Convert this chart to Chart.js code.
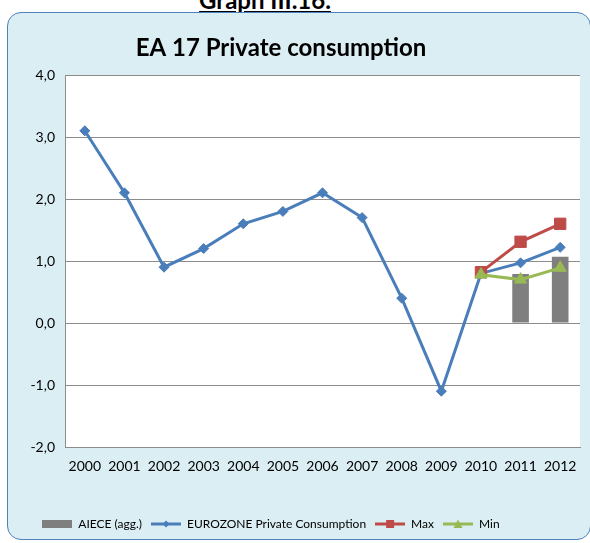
<!DOCTYPE html>
<html><head><meta charset="utf-8">
<script src="https://cdn.jsdelivr.net/npm/chart.js@4/dist/chart.umd.min.js"></script>
<style>
html,body{margin:0;padding:0;background:#fff;width:590px;height:543px;overflow:hidden;font-family:Lato,sans-serif}
#hdr{position:absolute;left:0;width:530px;top:-15px;line-height:24px;text-align:center;font:bold 24px Lato,sans-serif;text-decoration:underline;color:#000}
#panel{position:absolute;left:7px;top:12px;width:584px;height:528px;background:#DBEEF4;border:1.5px solid #4F81BD;border-radius:14px;box-sizing:border-box}
#wrap{position:absolute;left:0;top:0;width:590px;height:543px}
</style></head><body>
<div id="hdr">Graph III.16.</div>
<div id="panel"></div>
<div id="wrap"><canvas id="c" width="590" height="543"></canvas></div>
<script>
const chartTitle = 'EA 17 Private consumption';
const years = ['2000','2001','2002','2003','2004','2005','2006','2007','2008','2009','2010','2011','2012'];
const aiece = [null,null,null,null,null,null,null,null,null,null,null,0.79,1.07];
const eurozone = [3.1,2.1,0.9,1.2,1.6,1.8,2.1,1.7,0.4,-1.1,0.8,0.97,1.22];
const maxVals = [null,null,null,null,null,null,null,null,null,null,0.82,1.31,1.6];
const minVals = [null,null,null,null,null,null,null,null,null,null,0.78,0.7,0.89];
const yTicks = [-2,-1,0,1,2,3,4];

function legendImg(color, kind){
  const c=document.createElement('canvas');c.width=30;c.height=12;const x=c.getContext('2d');
  if(kind==='bar'){x.fillStyle=color;x.fillRect(0,2,30,8);return c;}
  x.strokeStyle=color;x.lineWidth=3;x.beginPath();x.moveTo(0,6);x.lineTo(30,6);x.stroke();
  x.fillStyle=color;x.beginPath();
  if(kind==='diamond'){x.moveTo(15,2.5);x.lineTo(18.5,6);x.lineTo(15,9.5);x.lineTo(11.5,6);x.closePath();}
  else if(kind==='square'){x.rect(11,2,8,8);}
  else {x.moveTo(15,1.5);x.lineTo(19.5,10);x.lineTo(10.5,10);x.closePath();}
  x.fill();return c;
}
const imgs=[legendImg('#7F7F7F','bar'),legendImg('#4A7EBB','diamond'),legendImg('#BE4B48','square'),legendImg('#98B954','tri')];

const whiteArea={id:'whiteArea',beforeDraw(ch){const a=ch.chartArea,g=ch.ctx;g.save();g.fillStyle='#fff';g.fillRect(a.left,a.top,a.right-a.left,a.bottom-a.top);g.restore();}};
const titleDraw={id:'titleDraw',afterDraw(ch){const g=ch.ctx;g.save();g.font='bold 24px Lato';g.fillStyle='#000';g.textAlign='center';g.textBaseline='middle';g.fillText(chartTitle,281,48);g.restore();}};
const legendShift={id:'legendShift',afterLayout(ch){if(ch.legend){ch.legend.left-=19;ch.legend.right-=19;}}};

new Chart(document.getElementById('c'),{
  data:{labels:years,datasets:[
    {type:'bar',label:'AIECE (agg.)',data:aiece,backgroundColor:'#7F7F7F',barPercentage:0.42,categoryPercentage:1,order:4},
    {type:'line',label:'EUROZONE Private Consumption',data:eurozone,borderColor:'#4A7EBB',backgroundColor:'#4A7EBB',borderWidth:3,pointBorderWidth:1,pointStyle:'rectRot',pointRadius:5,pointHoverRadius:5,tension:0,order:3},
    {type:'line',label:'Max',data:maxVals,borderColor:'#BE4B48',backgroundColor:'#BE4B48',borderWidth:3,pointBorderWidth:1,pointStyle:'rect',pointRadius:8,pointHoverRadius:8,tension:0,order:2},
    {type:'line',label:'Min',data:minVals,borderColor:'#98B954',backgroundColor:'#98B954',borderWidth:3,pointBorderWidth:1,pointStyle:'triangle',pointRadius:7,pointHoverRadius:7,tension:0,order:1}
  ]},
  options:{
    responsive:false,animation:false,
    layout:{padding:{left:0,right:10,top:75,bottom:3}},
    plugins:{
      title:{display:false},
      legend:{position:'bottom',labels:{color:'#000',font:{family:'Lato',size:12},usePointStyle:true,pointStyleWidth:30,padding:9,
        generateLabels(ch){return ch.data.datasets.map((d,i)=>({text:d.label,pointStyle:imgs[i],fillStyle:'transparent',strokeStyle:'transparent',lineWidth:0,datasetIndex:i,hidden:false}));}}},
      tooltip:{enabled:false}
    },
    scales:{
      x:{grid:{display:false,drawTicks:false},border:{display:true,color:'#8C8C8C'},ticks:{color:'#000',font:{family:'Lato',size:14},padding:11,maxRotation:0,autoSkip:false},
         afterFit(s){s.height=62;}},
      y:{min:-2,max:4,afterBuildTicks(s){s.ticks=yTicks.map(v=>({value:v}));},
         grid:{color:'#8C8C8C',drawTicks:false},border:{display:true,color:'#8C8C8C'},
         ticks:{color:'#000',font:{family:'Lato',size:14},padding:10,callback:v=>v.toFixed(1).replace('.',',')},
         afterFit(s){s.width=65;}}
    }
  },
  plugins:[whiteArea,titleDraw,legendShift]
});
</script></body></html>
